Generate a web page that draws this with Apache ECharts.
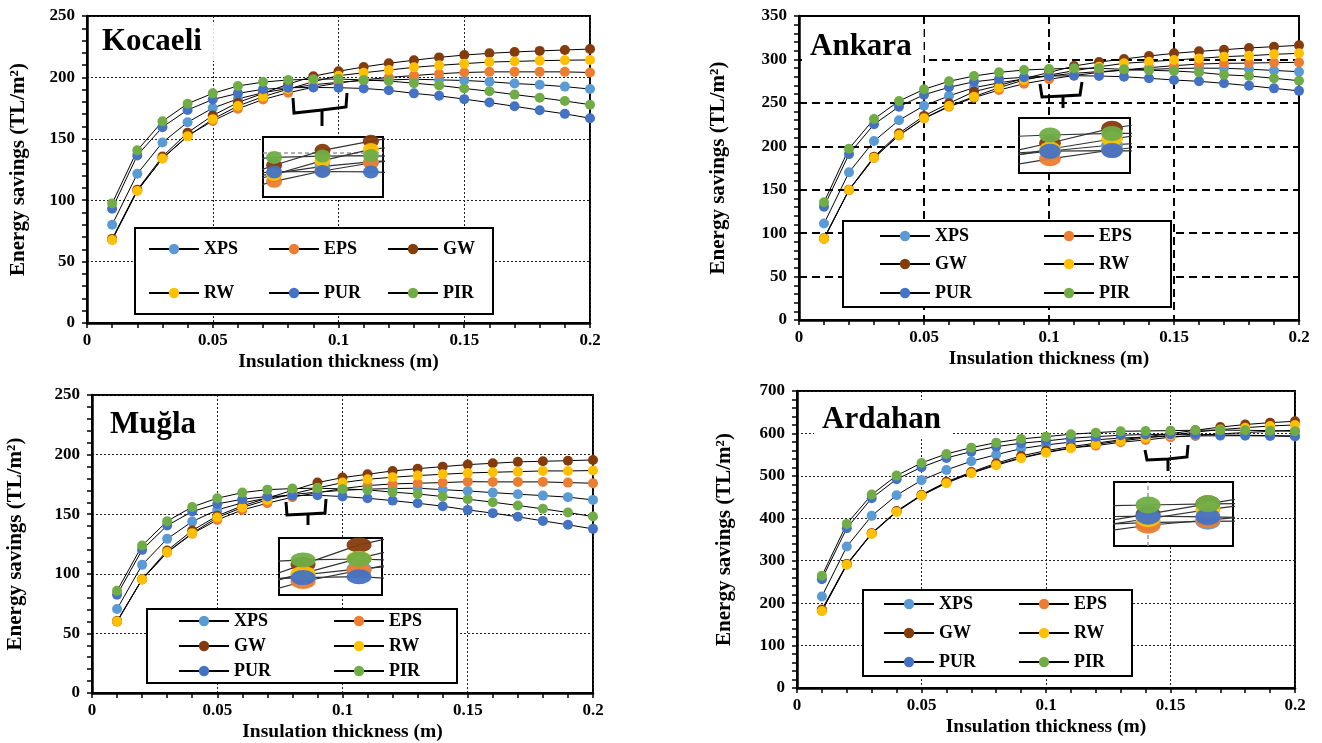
<!DOCTYPE html>
<html>
<head>
<meta charset="utf-8">
<title>Energy savings vs insulation thickness</title>
<script src="https://cdn.jsdelivr.net/npm/echarts@6/dist/echarts.min.js"></script>
<style>
  html, body { margin: 0; padding: 0; background: #fff; }
  #chart { width: 1322px; height: 743px; }
</style>
</head>
<body>
<div id="chart"></div>
<script>
// insulation thickness (m)
var thickness = [0.01, 0.02, 0.03, 0.04, 0.05, 0.06, 0.07, 0.08, 0.09, 0.10,
                 0.11, 0.12, 0.13, 0.14, 0.15, 0.16, 0.17, 0.18, 0.19, 0.20];
var materials = ['XPS', 'EPS', 'GW', 'RW', 'PUR', 'PIR'];
var colors = ['#5B9BD5', '#ED7D31', '#843C0C', '#FFC000', '#4472C4', '#70AD47'];

// energy savings (TL/m2) - Kocaeli
var kocaeliXPS = [80, 121.5, 147, 163.5, 175, 182.5, 187.5, 191, 194, 196, 197.5, 198, 198.5, 198, 197.5, 196.5, 195, 194, 192.5, 190.5];
var kocaeliEPS = [68, 108, 134, 152.5, 164.5, 174.5, 182, 187.5, 192, 195.5, 198, 200, 201.5, 203, 204, 204.5, 204.5, 204.5, 204.5, 204];
var kocaeliGW  = [68.5, 108.5, 135.5, 155, 169, 179.5, 187, 194.5, 201, 205, 208.5, 211.5, 214, 216.3, 218.2, 219.6, 220.7, 221.6, 222.3, 223.1];
var kocaeliRW  = [67.5, 107.5, 134, 152, 166, 176.7, 184.3, 190.5, 196.5, 201.4, 203.8, 206, 208.2, 209.8, 211.2, 212.5, 213, 213.6, 214, 214.2];
var kocaeliPUR = [93, 136.5, 159.5, 173.5, 182, 187, 190.3, 191.6, 191.8, 191.6, 191, 189.5, 187, 185, 182.3, 179.5, 176.5, 173.3, 170.3, 166.8];
var kocaeliPIR = [97.4, 140.6, 164.2, 178.6, 187, 193, 196.2, 197.9, 198.5, 198.7, 197.9, 197, 195.3, 193.5, 191, 188.7, 186, 183.5, 180.8, 177.8];

// Ankara
var ankaraXPS = [111, 170, 206, 230, 246.7, 258, 267.5, 273, 277.5, 281, 284, 286, 287.5, 288.5, 289.5, 290, 289.8, 288.8, 287.3, 285.9];
var ankaraEPS = [93.5, 149.5, 186.5, 212.5, 232, 245.5, 256, 264.8, 272, 277.1, 281.5, 285, 288, 290.5, 292.8, 294.7, 295.5, 295.8, 296.3, 296.6];
var ankaraGW  = [94, 150, 188, 215, 235, 249.5, 262.9, 270, 278, 285, 292.4, 297, 300.5, 304, 307, 309.3, 311.2, 313.2, 314.7, 316.2];
var ankaraRW  = [93.6, 149.7, 186.9, 213, 232.2, 246.4, 257.1, 267.5, 276.3, 282, 287, 291.5, 295.5, 297.4, 299.3, 301.2, 303.2, 304.3, 305.9, 307];
var ankaraPUR = [130.5, 191, 225.3, 245.6, 259.4, 267.9, 274.3, 277.5, 279.4, 280.9, 281.2, 280.9, 280.1, 278.3, 276.3, 274.8, 272.5, 269.8, 266.7, 263.8];
var ankaraPIR = [135.5, 197.3, 231.4, 252.1, 265.6, 274.8, 280.9, 285.1, 287.8, 289, 289.8, 289.8, 288.6, 287.5, 286.7, 285.1, 282.4, 280.9, 278.3, 275.5];

// Mugla
var muglaXPS = [70.4, 107.5, 129.3, 143.8, 153.6, 159.5, 163.5, 166.5, 168.5, 170, 171, 171.5, 171.8, 170.6, 169.5, 168.1, 166.8, 165.6, 164.3, 162];
var muglaEPS = [59.8, 95.2, 117.8, 133.6, 145.2, 153.6, 159.2, 164.3, 168, 171.5, 174, 175.4, 176, 176.5, 177.3, 177.1, 177.1, 177.1, 176.5, 176];
var muglaGW  = [60.3, 95.5, 119.5, 136.3, 148.6, 157, 163.5, 170, 176.5, 180.7, 183.5, 186.3, 188.2, 189.9, 191.6, 192.7, 193.9, 194.4, 194.9, 195.5];
var muglaRW  = [60, 95.3, 118.2, 134.1, 147.2, 155.6, 162, 167, 172, 176.5, 179.3, 181, 182.4, 183.5, 184.6, 185.2, 185.7, 186.3, 186.3, 186.6];
var muglaPUR = [82.4, 120.1, 140.5, 152.2, 158.6, 162.6, 164.8, 165.6, 165.9, 164.8, 163.4, 161.4, 159.2, 156.7, 153.6, 150.9, 147.8, 144.4, 141.1, 137.7];
var muglaPIR = [85.7, 123.7, 144.1, 156.1, 163.4, 168.1, 170.6, 171.5, 171.8, 171.2, 170.4, 168.5, 167, 164.8, 162.6, 160.1, 157.3, 154.5, 151.4, 148];

// Ardahan
var ardahanXPS = [215.7, 333.4, 405.7, 454.4, 489.7, 514, 534.5, 550, 564.2, 572.9, 579.5, 585, 589, 591.5, 593, 594, 594.5, 594.5, 594, 593];
var ardahanEPS = [182, 291, 364, 416, 454, 484, 507.5, 527, 543, 556, 566, 571.2, 579.2, 584.6, 591, 595, 599, 602, 605, 607.5];
var ardahanGW  = [185, 292.5, 365, 417, 455.5, 486, 509, 529.8, 547, 559.5, 568.9, 577, 585, 592, 599.5, 607.5, 615, 621, 625.4, 628.7];
var ardahanRW  = [181.3, 290.3, 363.3, 415.1, 453.5, 482.7, 506.2, 525, 541.6, 554.7, 565.1, 574.5, 582.3, 589.3, 596, 603, 609, 613.5, 617.5, 620];
var ardahanPUR = [256.6, 376.7, 447.3, 492.1, 520.3, 542.2, 557.1, 568.9, 576.9, 582.3, 588.6, 592.4, 595.7, 597.5, 598, 597.5, 596.5, 595.7, 594.9, 594];
var ardahanPIR = [264.4, 386.8, 455.8, 500.6, 530.5, 551.7, 566.5, 578.3, 587, 592.4, 598, 601.8, 605.1, 605.8, 606.6, 607.5, 607.8, 607.4, 606.6, 605];

var font = "'Liberation Serif', 'Times New Roman', serif";

// layout of the four panels (pixels)
var panels = [{
  title: 'Kocaeli', values: [kocaeliXPS, kocaeliEPS, kocaeliGW, kocaeliRW, kocaeliPUR, kocaeliPIR],
  grid: [87, 16, 503, 307], yMax: 250, yStep: 50, dashed: false,
  titleAt: [94, 22], xNameGap: 29, yNameGap: 58,
  legendBox: [135, 228, 358, 86], legendCols: [148, 268, 387], legendRows: [249, 293],
  inset: { box: [263, 137, 120, 60], x: [0.0777, 0.1025], y: [180.7, 206.8], size: [16, 13], mark: { yAxis: 200 } },
  brace: [[293, 98], [294, 113], [322, 110], [346, 107], [347, 93], [322, 126]]
}, {
  title: 'Ankara', values: [ankaraXPS, ankaraEPS, ankaraGW, ankaraRW, ankaraPUR, ankaraPIR],
  grid: [799, 16, 500, 304], yMax: 350, yStep: 50, dashed: true,
  titleAt: [802, 27], xNameGap: 29, yNameGap: 70,
  legendBox: [843, 221, 328, 86], legendCols: [879, 1043], legendRows: [236, 264, 293],
  inset: { box: [1019, 118, 111, 55], x: [0.095, 0.1129], y: [270, 297.5], size: [22, 15], mark: null },
  brace: [[1040, 84], [1042, 97], [1063, 96], [1080, 95], [1082, 82], [1063, 108]]
}, {
  title: 'Muğla', values: [muglaXPS, muglaEPS, muglaGW, muglaRW, muglaPUR, muglaPIR],
  grid: [92, 395, 501, 298], yMax: 250, yStep: 50, dashed: false,
  titleAt: [102, 405], xNameGap: 29, yNameGap: 66,
  legendBox: [147, 609, 310, 74], legendCols: [178, 333], legendRows: [621, 646, 671],
  inset: { box: [279, 538, 103, 57], x: [0.0757, 0.0941], y: [159.8, 178.8], size: [25, 15], mark: null },
  brace: [[286, 502], [287, 515], [308, 514], [325, 513], [326, 499], [308, 525]]
}, {
  title: 'Ardahan', values: [ardahanXPS, ardahanEPS, ardahanGW, ardahanRW, ardahanPUR, ardahanPIR],
  grid: [797, 391, 498, 297], yMax: 700, yStep: 100, dashed: false,
  titleAt: [814, 400], xNameGap: 29, yNameGap: 62,
  legendBox: [863, 590, 269, 86], legendCols: [883, 1018], legendRows: [604, 633, 662],
  inset: { box: [1114, 482, 119, 64], x: [0.1443, 0.1642], y: [575, 624.3], size: [25, 17], mark: { xAxis: 0.15 } },
  brace: [[1145, 450], [1147, 460], [1168, 459], [1187, 457], [1188, 445], [1168, 471]]
}];

function pairs(arr) {
  return thickness.map(function(t, i) { return [t, arr[i]]; });
}

var bold = { fontFamily: font, fontWeight: 'bold', color: '#000' };
var tickStyle = { color: '#000', width: 1.5 };

var option = {
  animation: false,
  backgroundColor: '#fff',
  title: [], grid: [], xAxis: [], yAxis: [], legend: [], series: [], graphic: []
};

panels.forEach(function(p, k) {
  var gridLine = p.dashed ?
    { color: '#000', width: 2, type: [8, 5] } :
    { color: '#222', width: 1, type: [2, 2] };

  option.title.push({
    text: p.title, left: p.titleAt[0], top: p.titleAt[1],
    padding: [4, 12, 4, 8], backgroundColor: '#fff',
    textStyle: { fontFamily: font, fontWeight: 'bold', fontSize: 31, color: '#000' }
  });

  option.grid.push({
    left: p.grid[0], top: p.grid[1], width: p.grid[2], height: p.grid[3],
    show: true, borderColor: '#000', borderWidth: 2
  });

  option.xAxis.push({
    type: 'value', gridIndex: k, min: 0, max: 0.2, interval: 0.05,
    name: 'Insulation thickness (m)', nameLocation: 'middle', nameGap: p.xNameGap,
    nameTextStyle: Object.assign({ fontSize: 19.5 }, bold),
    axisLine: { show: true, onZero: false, lineStyle: { color: '#000', width: 2.5 } },
    axisTick: { show: true, length: 5, lineStyle: tickStyle },
    minorTick: { show: true, splitNumber: 5, length: 5, lineStyle: tickStyle },
    axisLabel: Object.assign({ fontSize: 17, margin: 9 }, bold),
    splitLine: { show: true, lineStyle: gridLine }
  });

  option.yAxis.push({
    type: 'value', gridIndex: k, min: 0, max: p.yMax, interval: p.yStep,
    name: 'Energy savings (TL/m²)', nameLocation: 'middle', nameGap: p.yNameGap,
    nameTextStyle: Object.assign({ fontSize: 21 }, bold),
    axisLine: { show: true, lineStyle: { color: '#000', width: 2.5 } },
    axisTick: { show: true, length: 5, lineStyle: tickStyle },
    minorTick: { show: true, splitNumber: 5, length: 5, lineStyle: tickStyle },
    axisLabel: Object.assign({ fontSize: 17, margin: 12 }, bold),
    splitLine: { show: true, lineStyle: gridLine }
  });

  materials.forEach(function(m, j) {
    option.series.push({
      name: m, type: 'line', xAxisIndex: k, yAxisIndex: k,
      data: pairs(p.values[j]),
      symbol: 'circle', symbolSize: 10, showAllSymbol: true,
      itemStyle: { color: colors[j] },
      lineStyle: { color: '#000', width: 1 },
      emphasis: { disabled: true }, silent: true, z: 2
    });

    // legend: one item per slot so the columns line up like the original
    var nCols = p.legendCols.length;
    option.legend.push({
      data: [m], selectedMode: false, padding: 0,
      left: p.legendCols[j % nCols], top: p.legendRows[Math.floor(j / nCols)] - 9,
      itemWidth: 50, itemHeight: 13, itemGap: 0,
      textStyle: Object.assign({ fontSize: 18 }, bold), z: 10
    });
  });

  option.graphic.push({
    type: 'rect', z: 8,
    shape: { x: p.legendBox[0], y: p.legendBox[1], width: p.legendBox[2], height: p.legendBox[3] },
    style: { fill: '#fff', stroke: '#000', lineWidth: 2 }
  });

  // curly brace pointing from the magnified region to the inset
  var b = p.brace;
  option.graphic.push({
    type: 'polyline', z: 8,
    shape: { points: [b[0], b[1], b[2], b[3], b[4]] },
    style: { fill: null, stroke: '#000', lineWidth: 3 }
  });
  option.graphic.push({
    type: 'polyline', z: 8,
    shape: { points: [b[2], b[5]] },
    style: { fill: null, stroke: '#000', lineWidth: 3 }
  });
});

// magnified insets: same data through narrow axes
panels.forEach(function(p, k) {
  var g = 4 + k, ins = p.inset;
  option.grid.push({
    left: ins.box[0], top: ins.box[1], width: ins.box[2], height: ins.box[3],
    show: true, backgroundColor: '#fff', borderColor: '#000', borderWidth: 2, z: 3
  });
  option.xAxis.push({ type: 'value', gridIndex: g, min: ins.x[0], max: ins.x[1], show: false, splitLine: { show: false } });
  option.yAxis.push({ type: 'value', gridIndex: g, min: ins.y[0], max: ins.y[1], show: false, splitLine: { show: false } });
  materials.forEach(function(m, j) {
    var s = {
      name: m, type: 'line', xAxisIndex: g, yAxisIndex: g,
      data: pairs(p.values[j]), clip: true,
      symbol: 'circle', symbolSize: ins.size, showAllSymbol: true,
      itemStyle: { color: colors[j], opacity: 0.95 },
      lineStyle: { color: '#333', width: 1.2 },
      emphasis: { disabled: true }, silent: true, z: 5
    };
    if (j === 0 && ins.mark) {
      s.markLine = {
        silent: true, symbol: 'none', label: { show: false },
        lineStyle: { color: '#999', width: 1.5, type: [4, 3] },
        data: [ins.mark]
      };
    }
    option.series.push(s);
  });
});

var chart = echarts.init(document.getElementById('chart'));
chart.setOption(option);
</script>
</body>
</html>
